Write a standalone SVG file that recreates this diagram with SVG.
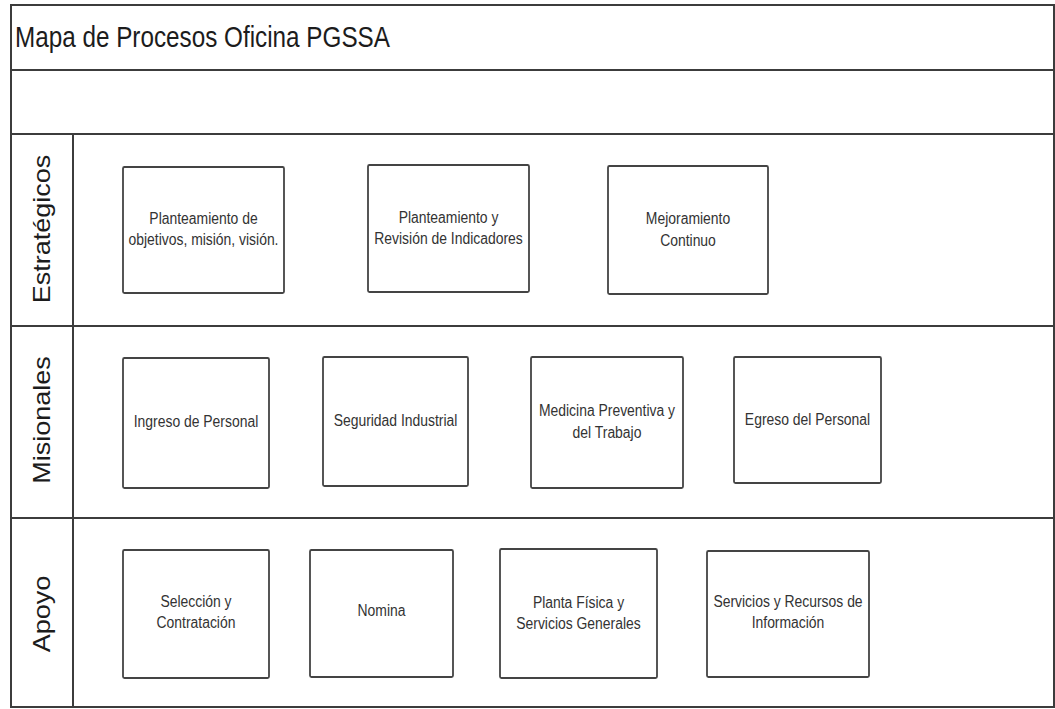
<svg xmlns="http://www.w3.org/2000/svg" width="1055" height="709" viewBox="0 0 1055 709">
  <style>
    .frame { fill: none; stroke: #3c3c3c; stroke-width: 2; }
    .box { fill: #ffffff; stroke: #444444; stroke-width: 1.8; }
    .title { font-family: "Liberation Sans", Arial, sans-serif; font-size: 29px; fill: #1c1c1c; }
    .lane { font-family: "Liberation Sans", Arial, sans-serif; font-size: 27px; fill: #1c1c1c; text-anchor: middle; }
    .lbl { font-family: "Liberation Sans", Arial, sans-serif; font-size: 16px; fill: #333333; text-anchor: middle; }
  </style>
  <rect width="1055" height="709" fill="#ffffff"/>

  <!-- pool frame and lane dividers -->
  <g id="connectors">
    <rect class="frame" x="11" y="5" width="1043" height="702"/>
    <line class="frame" x1="11" y1="70" x2="1054" y2="70"/>
    <line class="frame" x1="11" y1="134" x2="1054" y2="134"/>
    <line class="frame" x1="11" y1="326" x2="1054" y2="326"/>
    <line class="frame" x1="11" y1="518" x2="1054" y2="518"/>
    <line class="frame" x1="73" y1="134" x2="73" y2="707"/>
  </g>

  <g id="title">
    <text class="title" transform="translate(15,47) scale(0.837,1)">Mapa de Procesos Oficina PGSSA</text>
  </g>

  <!-- lane headers -->
  <g id="lane-estrategicos">
    <text class="lane" transform="translate(50,229) rotate(-90) scale(1,0.9)">Estratégicos</text>
  </g>
  <g id="lane-misionales">
    <text class="lane" transform="translate(50,420) rotate(-90) scale(1,0.9)">Misionales</text>
  </g>
  <g id="lane-apoyo">
    <text class="lane" transform="translate(50,614) rotate(-90) scale(1,0.9)">Apoyo</text>
  </g>

  <!-- Estratégicos -->
  <g id="planteamiento-objetivos">
    <rect class="box" x="123" y="167" width="161" height="126" rx="1.5"/>
    <text class="lbl" transform="translate(203.5,224) scale(0.87,1)"><tspan x="0">Planteamiento de</tspan><tspan x="0" dy="21">objetivos, misión, visión.</tspan></text>
  </g>
  <g id="planteamiento-indicadores">
    <rect class="box" x="368" y="165" width="161" height="127" rx="1.5"/>
    <text class="lbl" transform="translate(448.5,223) scale(0.87,1)"><tspan x="0">Planteamiento y</tspan><tspan x="0" dy="21.5">Revisión de Indicadores</tspan></text>
  </g>
  <g id="mejoramiento-continuo">
    <rect class="box" x="608" y="166" width="160" height="128" rx="1.5"/>
    <text class="lbl" transform="translate(688,224) scale(0.87,1)"><tspan x="0">Mejoramiento</tspan><tspan x="0" dy="22">Continuo</tspan></text>
  </g>

  <!-- Misionales -->
  <g id="ingreso-personal">
    <rect class="box" x="123" y="358" width="146" height="130" rx="1.5"/>
    <text class="lbl" transform="translate(196,427) scale(0.87,1)">Ingreso de Personal</text>
  </g>
  <g id="seguridad-industrial">
    <rect class="box" x="323" y="357" width="145" height="129" rx="1.5"/>
    <text class="lbl" transform="translate(395.5,426) scale(0.87,1)">Seguridad Industrial</text>
  </g>
  <g id="medicina-preventiva">
    <rect class="box" x="531" y="357" width="152" height="131" rx="1.5"/>
    <text class="lbl" transform="translate(607,416) scale(0.87,1)"><tspan x="0">Medicina Preventiva y</tspan><tspan x="0" dy="22">del Trabajo</tspan></text>
  </g>
  <g id="egreso-personal">
    <rect class="box" x="734" y="357" width="147" height="126" rx="1.5"/>
    <text class="lbl" transform="translate(807.5,425) scale(0.87,1)">Egreso del Personal</text>
  </g>

  <!-- Apoyo -->
  <g id="seleccion-contratacion">
    <rect class="box" x="123" y="550" width="146" height="128" rx="1.5"/>
    <text class="lbl" transform="translate(196,607) scale(0.87,1)"><tspan x="0">Selección y</tspan><tspan x="0" dy="21">Contratación</tspan></text>
  </g>
  <g id="nomina">
    <rect class="box" x="310" y="550" width="143" height="127" rx="1.5"/>
    <text class="lbl" transform="translate(381.5,616) scale(0.87,1)">Nomina</text>
  </g>
  <g id="planta-fisica">
    <rect class="box" x="500" y="549" width="157" height="129" rx="1.5"/>
    <text class="lbl" transform="translate(578.5,608) scale(0.87,1)"><tspan x="0">Planta Física y</tspan><tspan x="0" dy="21">Servicios Generales</tspan></text>
  </g>
  <g id="servicios-recursos">
    <rect class="box" x="707" y="551" width="162" height="126" rx="1.5"/>
    <text class="lbl" transform="translate(788,607) scale(0.87,1)"><tspan x="0">Servicios y Recursos de</tspan><tspan x="0" dy="21">Información</tspan></text>
  </g>
</svg>
